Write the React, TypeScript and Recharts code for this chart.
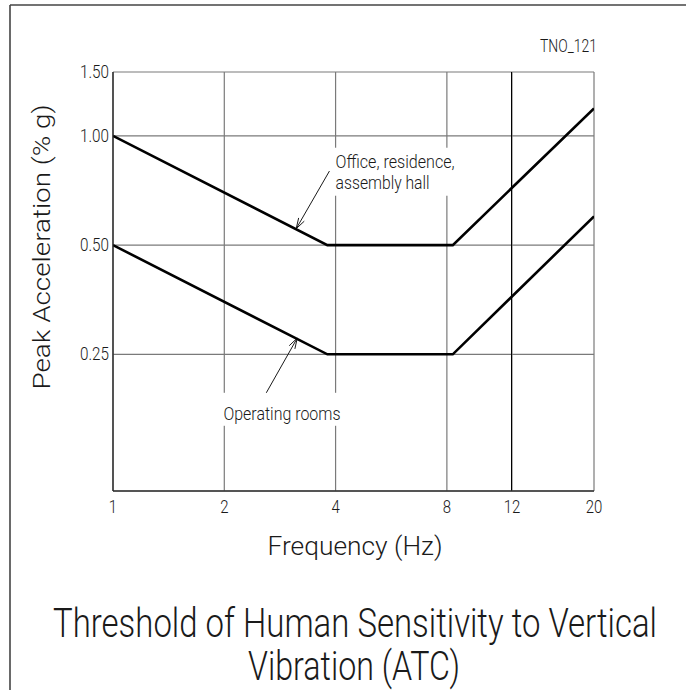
import { LineChart, Line, XAxis, YAxis, CartesianGrid, ReferenceLine, ReferenceDot } from "recharts"

// ATC curves, breakpoints (Hz, % g)
const frequencies = [1, 3.8, 8.3, 20]
const officeAccel = [1.0, 0.5, 0.5, 1.19]
const operatingAccel = [0.5, 0.25, 0.25, 0.6]

const freqTicks = [1, 2, 4, 8, 12, 20]
const accelTicks = [0.25, 0.5, 1.0, 1.5]

// callouts, tail -> head, in data units
const officeArrow = [{ x: 3.85, y: 0.8 }, { x: 3.13, y: 0.555 }]
const operatingArrow = [{ x: 2.54, y: 0.188 }, { x: 3.15, y: 0.277 }]
const officeLabel = ["Office, residence,", "assembly hall"]
const officeLabelAt = { x: 4.0, y: 0.817 }
const operatingLabel = ["Operating rooms"]
const operatingLabelAt = { x: 1.99, y: 0.165 }

const data = frequencies.map((f, i) => ({
  freq: f,
  office: officeAccel[i],
  operating: operatingAccel[i],
}))

const FONT = "Roboto, 'Liberation Sans Narrow', 'DejaVu Sans', sans-serif"
const INK = "#1a1a1a"
const GRID = "#7a7a7a"

function XTick({ x, y, payload }: any) {
  const s = String(payload.value)
  return (
    <text x={x} y={y + 22} textAnchor="middle" fontFamily={FONT} fontWeight={300} fontSize={18} fill={INK}
      textLength={s.length * 8.3} lengthAdjust="spacingAndGlyphs">
      {s}
    </text>
  )
}

function YTick({ x, y, payload }: any) {
  const s = Number(payload.value).toFixed(2)
  return (
    <text x={x - 4} y={y + 6} textAnchor="end" fontFamily={FONT} fontWeight={300} fontSize={17.5} fill={INK}
      textLength={29} lengthAdjust="spacingAndGlyphs">
      {s}
    </text>
  )
}

function Arrow({ x1, y1, x2, y2 }: any) {
  const ang = Math.atan2(y2 - y1, x2 - x1)
  const len = 11
  const spread = 0.3
  const a1 = ang + Math.PI - spread
  const a2 = ang + Math.PI + spread
  const pts = `${x2 + len * Math.cos(a1)},${y2 + len * Math.sin(a1)} ${x2},${y2} ${x2 + len * Math.cos(a2)},${y2 + len * Math.sin(a2)}`
  return (
    <g stroke={INK} strokeWidth={1} fill="none">
      <line x1={x1} y1={y1} x2={x2} y2={y2} />
      <polyline points={pts} />
    </g>
  )
}

// text block with a white box behind it, so the grid breaks like on the drawing
function callout(lines: string[], widths: number[], box: { l: number; r: number; t: number; b: number }) {
  return ({ cx, cy }: any) => (
    <g>
      <rect x={cx - box.l} y={cy - box.t} width={box.l + box.r} height={box.t + box.b} fill="#fff" />
      {lines.map((s, i) => (
        <text key={s} x={cx} y={cy + i * 21} fontFamily={FONT} fontWeight={300} fontSize={19} fill={INK}
          textLength={widths[i]} lengthAdjust="spacingAndGlyphs">
          {s}
        </text>
      ))}
    </g>
  )
}

export default function App() {
  return (
    <div style={{ position: "absolute", left: 0, top: 0, width: 687, height: 690, background: "#fff" }}>
      <LineChart width={687} height={690} data={data} margin={{ top: 72, right: 93, bottom: 169, left: 53 }}>
        <CartesianGrid stroke={GRID} strokeWidth={1.2} />
        <XAxis
          dataKey="freq"
          type="number"
          scale="log"
          domain={[1, 20]}
          allowDataOverflow
          ticks={freqTicks}
          tick={<XTick />}
          tickLine={false}
          tickSize={0}
          tickMargin={0}
          height={30}
          axisLine={{ stroke: "#333", strokeWidth: 1.3 }}
        />
        <YAxis
          type="number"
          scale="log"
          domain={[0.105, 1.5]}
          allowDataOverflow
          ticks={accelTicks}
          tick={<YTick />}
          tickLine={false}
          tickSize={0}
          tickMargin={0}
          width={60}
          axisLine={{ stroke: "#222", strokeWidth: 1.3 }}
        />
        <ReferenceLine x={12} stroke="#000" strokeWidth={1} shapeRendering="crispEdges" />
        <ReferenceDot x={officeLabelAt.x} y={officeLabelAt.y} r={1}
          shape={callout(officeLabel, [119, 94], { l: 3, r: 124, t: 20, b: 28 })} />
        <ReferenceDot x={operatingLabelAt.x} y={operatingLabelAt.y} r={1}
          shape={callout(operatingLabel, [117], { l: 6, r: 124, t: 27, b: 6 })} />
        <ReferenceLine segment={officeArrow} shape={<Arrow />} />
        <ReferenceLine segment={operatingArrow} shape={<Arrow />} />
        <Line type="linear" dataKey="office" stroke="#000" strokeWidth={2.6} dot={false} isAnimationActive={false} />
        <Line type="linear" dataKey="operating" stroke="#000" strokeWidth={2.6} dot={false} isAnimationActive={false} />
      </LineChart>

      <svg width={687} height={690} style={{ position: "absolute", left: 0, top: 0, pointerEvents: "none" }}>
        <line x1={10} y1={5} x2={686} y2={5} stroke="#444" strokeWidth={1.6} />
        <line x1={10} y1={5} x2={10} y2={690} stroke="#444" strokeWidth={1.6} />
        <g fontFamily={FONT} fontWeight={300} fill={INK}>
          <text x={540} y={52} fontSize={18} textLength={57} lengthAdjust="spacingAndGlyphs">TNO_121</text>
          <text transform="translate(50,247) rotate(-90)" textAnchor="middle" fontSize={24} textLength={285}
            lengthAdjust="spacingAndGlyphs">
            Peak Acceleration (% g)
          </text>
          <text x={355} y={555} textAnchor="middle" fontSize={25} textLength={175} lengthAdjust="spacingAndGlyphs">
            Frequency (Hz)
          </text>
          <text transform="translate(355,637) scale(1,1.25)" textAnchor="middle" fontSize={32} textLength={604}
            lengthAdjust="spacingAndGlyphs">
            Threshold of Human Sensitivity to Vertical
          </text>
          <text transform="translate(354,680) scale(1,1.25)" textAnchor="middle" fontSize={32} textLength={212}
            lengthAdjust="spacingAndGlyphs">
            Vibration (ATC)
          </text>
        </g>
      </svg>
    </div>
  )
}
